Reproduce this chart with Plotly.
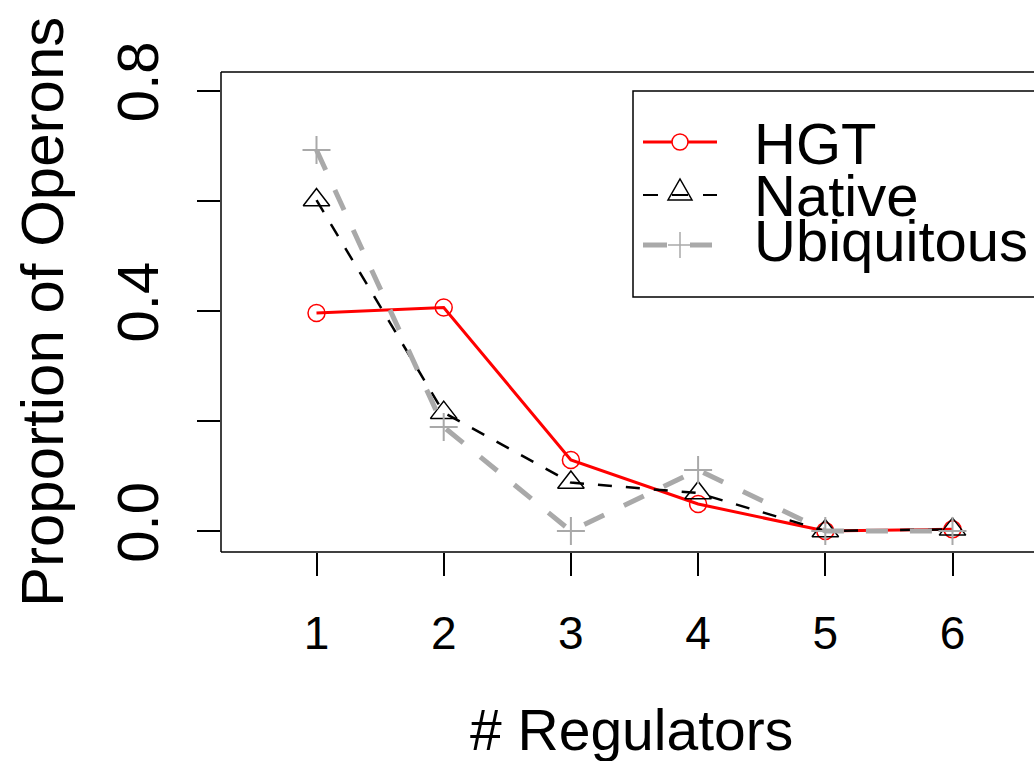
import plotly.graph_objects as go

# ---- data ----
regulators = [1, 2, 3, 4, 5, 6]
hgt = [0.396, 0.406, 0.129, 0.049, 0.0, 0.003]
native = [0.601, 0.215, 0.088, 0.069, 0.0, 0.003]
ubiquitous = [0.692, 0.189, 0.0, 0.111, 0.0, 0.0]

y_tickvals = [0.0, 0.2, 0.4, 0.6, 0.8]
y_ticktext = ["0.0", "", "0.4", "", "0.8"]
x_tickvals = [1, 2, 3, 4, 5, 6]
x_ticktext = ["1", "2", "3", "4", "5", "6"]

series_names = ["HGT", "Native", "Ubiquitous"]

# ---- layout geometry (pixels) ----
W, H = 1034, 761
L, T, B = 221, 72, 552
R = W
FONT = "Liberation Sans, Arial, sans-serif"
RED = "#FF0000"
GRAY = "#A9A9A9"


def px(x):
    return (x - L) / (R - L)


def py(y):
    return (B - y) / (B - T)


fig = go.Figure()

fig.add_trace(go.Scatter(
    x=regulators, y=hgt, name=series_names[0], mode="lines+markers",
    line=dict(color=RED, width=3),
    marker=dict(symbol="circle-open", size=17, color=RED, line=dict(width=1.5, color=RED)),
    showlegend=False))
fig.add_trace(go.Scatter(
    x=regulators, y=native, name=series_names[1], mode="lines+markers",
    line=dict(color="black", width=2.5, dash="14px,14px"),
    marker=dict(symbol="triangle-up-open", size=23, color="black", line=dict(width=1.5, color="black")),
    showlegend=False))
fig.add_trace(go.Scatter(
    x=regulators, y=ubiquitous, name=series_names[2], mode="lines+markers",
    line=dict(color=GRAY, width=5, dash="22px,22px"),
    marker=dict(symbol="cross-thin-open", size=20, color=GRAY, line=dict(width=2, color=GRAY)),
    showlegend=False))

shapes = []
# plot box (left, top, bottom; right edge lies beyond the canvas)
for (x0, y0, x1, y1) in [(L, T, L, B), (L, T, W + 40, T), (L, B, W + 40, B)]:
    shapes.append(dict(type="line", xref="paper", yref="paper",
                       x0=px(x0), y0=py(y0), x1=px(x1), y1=py(y1),
                       line=dict(color="black", width=1.5)))

# legend box
shapes.append(dict(type="rect", xref="paper", yref="paper",
                   x0=px(633), y0=py(91), x1=px(W + 60), y1=py(297),
                   line=dict(color="black", width=1.5), fillcolor="white", layer="above"))
# HGT key
shapes.append(dict(type="line", xref="paper", yref="paper", x0=px(643), x1=px(717),
                   y0=py(142), y1=py(142), line=dict(color=RED, width=3)))
shapes.append(dict(type="circle", xref="paper", yref="paper", x0=px(672), x1=px(688),
                   y0=py(134), y1=py(150), line=dict(color=RED, width=1.5), fillcolor="white"))
# Native key
for a, b in [(643, 658), (703, 717)]:
    shapes.append(dict(type="line", xref="paper", yref="paper", x0=px(a), x1=px(b),
                       y0=py(195), y1=py(195), line=dict(color="black", width=2)))
shapes.append(dict(type="path", xref="paper", yref="paper",
                   path="M {},{} L {},{} L {},{} Z".format(px(668), py(200), px(692), py(200), px(680), py(179)),
                   line=dict(color="black", width=1.5)))
shapes.append(dict(type="line", xref="paper", yref="paper", x0=px(672), x1=px(688),
                   y0=py(195), y1=py(195), line=dict(color="black", width=2)))
# Ubiquitous key
for a, b in [(643, 667), (690, 712)]:
    shapes.append(dict(type="line", xref="paper", yref="paper", x0=px(a), x1=px(b),
                       y0=py(245), y1=py(245), line=dict(color=GRAY, width=5)))
shapes.append(dict(type="line", xref="paper", yref="paper", x0=px(668), x1=px(692),
                   y0=py(245), y1=py(245), line=dict(color=GRAY, width=1.5)))
shapes.append(dict(type="line", xref="paper", yref="paper", x0=px(680), x1=px(680),
                   y0=py(232), y1=py(258), line=dict(color=GRAY, width=1.5)))

annotations = [
    dict(text="# Regulators", xref="paper", yref="paper", x=px(631), y=py(730),
         xanchor="center", yanchor="middle", showarrow=False,
         font=dict(family=FONT, size=57, color="black")),
    dict(text="Proportion of Operons", xref="paper", yref="paper", x=px(42), y=0.5,
         xanchor="center", yanchor="middle", textangle=-90, showarrow=False,
         font=dict(family=FONT, size=60, color="black")),
]
for name, yc in zip(series_names, [143, 195, 240]):
    annotations.append(dict(text=name, xref="paper", yref="paper", x=px(752), y=py(yc),
                            xanchor="left", yanchor="middle", showarrow=False,
                            font=dict(family=FONT, size=58, color="black")))

fig.update_layout(
    width=W, height=H,
    margin=dict(l=L, r=W - R, t=T, b=H - B, pad=0),
    paper_bgcolor="white", plot_bgcolor="white",
    showlegend=False,
    shapes=shapes, annotations=annotations,
    xaxis=dict(range=[0.2492, 6.6407], tickvals=x_tickvals, ticktext=x_ticktext,
               ticks="outside", ticklen=23, tickwidth=1.5, tickcolor="black",
               showgrid=False, zeroline=False, showline=False,
               tickfont=dict(family=FONT, size=46, color="black"),
               ticklabelstandoff=18),
    yaxis=dict(range=[-0.0381, 0.8336], tickvals=y_tickvals, ticktext=y_ticktext,
               ticks="outside", ticklen=23, tickwidth=1.5, tickcolor="black",
               showgrid=False, zeroline=False, showline=False, tickangle=-90,
               tickfont=dict(family=FONT, size=58, color="black"),
               ticklabelstandoff=16),
)

fig.write_html("out.html")
